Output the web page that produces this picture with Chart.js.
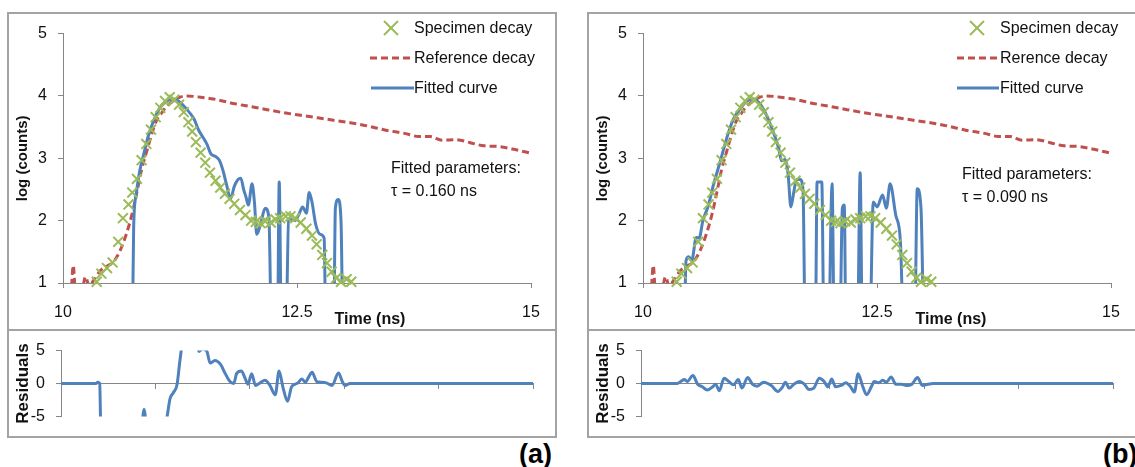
<!DOCTYPE html>
<html>
<head>
<meta charset="utf-8">
<script src="https://cdn.jsdelivr.net/npm/chart.js@4.4.1/dist/chart.umd.min.js"></script>
<style>
  body { margin: 0; background: #fff; }
  #page { position: relative; width: 1135px; height: 467px; overflow: hidden; background: #fff; }
  .frame { position: absolute; border: 2px solid #a3a3a3; box-sizing: border-box; }
  .divider { position: absolute; height: 2px; background: #a3a3a3; }
  canvas { position: absolute; }
  .txt { position: absolute; font-family: 'Liberation Sans', Arial, sans-serif; font-size: 16px; line-height: 20px; white-space: nowrap; color: #111; }
  .bold { font-weight: bold; }
  .tag { position: absolute; font-family: 'Liberation Sans', Arial, sans-serif; font-weight: bold; font-size: 27px; line-height: 27px; color: #000; }
  svg { position: absolute; overflow: visible; }
</style>
</head>
<body>
<div id="page">
  <div class="frame" style="left:7px;top:12px;width:550px;height:426px"></div>
  <div class="divider" style="left:7px;top:329px;width:550px"></div>
  <div class="frame" style="left:587px;top:12px;width:552px;height:426px"></div>
  <div class="divider" style="left:587px;top:329px;width:552px"></div>

  <canvas id="decayA" width="548" height="317" style="left:8px;top:13px"></canvas>
  <canvas id="residA" width="548" height="107" style="left:8px;top:330px"></canvas>
  <canvas id="decayB" width="548" height="317" style="left:588px;top:13px"></canvas>
  <canvas id="residB" width="548" height="107" style="left:588px;top:330px"></canvas>

  <!-- legend (a) -->
  <svg style="left:384px;top:21px" width="14" height="14"><path d="M0 0L14 14M14 0L0 14" stroke="#9BBB59" stroke-width="2"/></svg>
  <div class="txt" style="left:414px;top:18px">Specimen decay</div>
  <svg style="left:370px;top:56px" width="44" height="4"><line x1="0" y1="2" x2="44" y2="2" stroke="#C0504D" stroke-width="3" stroke-dasharray="7 4"/></svg>
  <div class="txt" style="left:414px;top:48px">Reference decay</div>
  <svg style="left:371px;top:86px" width="43" height="4"><line x1="0" y1="2" x2="43" y2="2" stroke="#4F81BD" stroke-width="3"/></svg>
  <div class="txt" style="left:414px;top:78px">Fitted curve</div>
  <div class="txt" style="left:391px;top:158px">Fitted parameters:</div>
  <div class="txt" style="left:391px;top:181px">τ = 0.160 ns</div>
  <div class="txt bold" style="left:320px;top:309px;width:100px;text-align:center">Time (ns)</div>
  <div class="tag" style="left:519px;top:441px">(a)</div>

  <!-- legend (b) -->
  <svg style="left:970px;top:21px" width="14" height="14"><path d="M0 0L14 14M14 0L0 14" stroke="#9BBB59" stroke-width="2"/></svg>
  <div class="txt" style="left:1000px;top:18px">Specimen decay</div>
  <svg style="left:957px;top:56px" width="42" height="4"><line x1="0" y1="2" x2="42" y2="2" stroke="#C0504D" stroke-width="3" stroke-dasharray="7 4"/></svg>
  <div class="txt" style="left:1000px;top:48px">Rerence decay</div>
  <svg style="left:957px;top:86px" width="42" height="4"><line x1="0" y1="2" x2="42" y2="2" stroke="#4F81BD" stroke-width="3"/></svg>
  <div class="txt" style="left:1000px;top:78px">Fitted curve</div>
  <div class="txt" style="left:962px;top:164px">Fitted parameters:</div>
  <div class="txt" style="left:962px;top:187px">τ = 0.090 ns</div>
  <div class="txt bold" style="left:901px;top:309px;width:100px;text-align:center">Time (ns)</div>
  <div class="tag" style="left:1103px;top:441px">(b)</div>
</div>

<script>
// tick values
const mainXTicks = [10, 12.5, 15];
const mainYTicks = [1, 2, 3, 4, 5];
const residualXTicks = [10, 11, 12, 13, 14, 15];
const residualYTicks = [-5, 0, 5];

// [time (ns), log(counts)] - same specimen and reference in both panels
const specimenDecay = [
  [10.36, 1.02], [10.41, 1.15], [10.47, 1.24], [10.53, 1.33], [10.59, 1.66], [10.64, 2.04],
  [10.70, 2.26], [10.74, 2.45], [10.79, 2.67], [10.84, 2.97], [10.89, 3.23], [10.94, 3.46],
  [10.99, 3.66], [11.04, 3.81], [11.09, 3.92], [11.14, 3.98], [11.19, 3.94], [11.24, 3.86],
  [11.29, 3.74], [11.34, 3.58], [11.38, 3.43], [11.42, 3.26], [11.47, 3.09], [11.52, 2.93],
  [11.57, 2.77], [11.63, 2.64], [11.68, 2.53], [11.73, 2.43], [11.78, 2.35], [11.83, 2.27],
  [11.89, 2.17], [11.95, 2.09], [12.01, 2.00], [12.06, 1.98], [12.11, 1.96], [12.16, 1.99],
  [12.22, 1.97], [12.27, 2.02], [12.32, 2.04], [12.38, 2.07], [12.43, 2.07], [12.48, 2.04],
  [12.54, 1.97], [12.60, 1.87], [12.66, 1.76], [12.71, 1.62], [12.77, 1.45], [12.82, 1.32],
  [12.87, 1.18], [12.92, 1.08], [12.97, 1.02], [13.03, 1.06], [13.08, 1.02]
];

const referenceDecay = [
  [10.08, 0.6], [10.11, 1.28], [10.135, 0.8], [10.20, 0.85], [10.24, 1.10], [10.28, 0.95],
  [10.33, 1.05], [10.40, 1.20], [10.47, 1.27], [10.54, 1.34], [10.61, 1.52], [10.68, 1.80],
  [10.74, 2.12], [10.79, 2.46], [10.84, 2.82], [10.90, 3.14], [10.95, 3.40], [11.00, 3.61],
  [11.06, 3.74], [11.11, 3.84], [11.18, 3.92], [11.25, 3.98], [11.32, 4.00], [11.47, 3.98],
  [11.61, 3.95], [11.82, 3.88], [12.00, 3.83], [12.18, 3.78], [12.36, 3.73], [12.54, 3.69],
  [12.72, 3.65], [12.89, 3.61], [13.07, 3.57], [13.25, 3.52], [13.45, 3.45], [13.65, 3.40],
  [13.80, 3.35], [13.92, 3.35], [14.05, 3.29], [14.20, 3.30], [14.35, 3.25], [14.50, 3.20],
  [14.65, 3.19], [14.80, 3.15], [15.00, 3.08]
];

const fittedCurveA = [
  [10.74, 0], [10.755, 1.9], [10.78, 2.4], [10.82, 2.8], [10.86, 3.05], [10.91, 3.35],
  [10.97, 3.61], [11.04, 3.82], [11.11, 3.92], [11.18, 3.95], [11.25, 3.90], [11.32, 3.79],
  [11.40, 3.63], [11.45, 3.45], [11.49, 3.35], [11.54, 3.22], [11.58, 3.07], [11.63, 3.03],
  [11.67, 2.97], [11.71, 2.80], [11.75, 2.56], [11.79, 2.35], [11.83, 2.55], [11.87, 2.66],
  [11.90, 2.68], [11.93, 2.50], [11.955, 2.38], [11.98, 2.25], [12.02, 2.59], [12.045, 2.30],
  [12.07, 1.78], [12.11, 1.94], [12.16, 2.20], [12.20, 2.05], [12.23, 0], [12.29, 0],
  [12.31, 2.62], [12.335, 0], [12.38, 0], [12.41, 2.0], [12.44, 2.02], [12.48, 2.0],
  [12.52, 2.1], [12.56, 2.22], [12.60, 2.12], [12.63, 2.45], [12.66, 2.3], [12.70, 1.94],
  [12.75, 1.78], [12.79, 1.72], [12.81, 0], [12.89, 0], [12.91, 2.2], [12.94, 2.34],
  [12.97, 2.0], [12.99, 0]
];

const fittedCurveB = [
  [10.44, 0], [10.46, 1.36], [10.49, 1.42], [10.52, 1.36], [10.57, 1.73], [10.60, 1.72],
  [10.64, 2.00], [10.70, 2.25], [10.75, 2.56], [10.80, 2.82], [10.86, 3.14], [10.91, 3.40],
  [10.96, 3.61], [11.04, 3.80], [11.11, 3.92], [11.18, 3.95], [11.25, 3.87], [11.32, 3.69],
  [11.39, 3.43], [11.45, 3.16], [11.48, 2.96], [11.52, 2.98], [11.55, 2.75], [11.58, 2.22],
  [11.61, 2.45], [11.64, 2.66], [11.68, 2.66], [11.71, 2.48], [11.735, 0], [11.84, 0],
  [11.86, 2.62], [11.91, 2.62], [11.935, 0], [11.98, 0], [12.02, 2.59], [12.045, 0],
  [12.10, 0], [12.13, 2.20], [12.15, 2.25], [12.17, 0], [12.29, 0], [12.32, 2.77],
  [12.345, 0], [12.42, 0], [12.46, 2.30], [12.50, 2.22], [12.56, 2.41], [12.60, 2.20],
  [12.64, 2.59], [12.70, 2.09], [12.75, 1.67], [12.79, 0], [12.90, 0], [12.93, 2.51],
  [12.97, 2.2], [13.00, 0]
];

// [time (ns), residual]
const residualsA = [
  [10.0, 0], [10.37, 0], [10.39, 0.2], [10.41, 0], [10.425, -9], [10.82, -9], [10.865, -5.2],
  [10.88, -3.9], [10.895, -5.2], [10.94, -9], [11.10, -7], [11.13, -4.5], [11.155, -2.3],
  [11.19, -1.4], [11.23, -0.1], [11.26, 3.5], [11.30, 7], [11.43, 7], [11.46, 4.85],
  [11.50, 5.3], [11.545, 4.9], [11.58, 3.1], [11.63, 3.5], [11.69, 2.9], [11.74, 1.5],
  [11.79, 0.3], [11.83, 0], [11.86, 1.5], [11.91, 1.9], [11.95, 0.8], [11.98, -0.1],
  [12.02, 1.5], [12.06, -0.3], [12.11, 0.1], [12.16, 0.5], [12.21, -0.2], [12.27, -1.7],
  [12.31, 1.9], [12.35, -0.5], [12.40, -2.7], [12.44, -0.6], [12.48, -0.1], [12.51, 0.1],
  [12.55, 0.7], [12.59, 0.2], [12.62, 0.9], [12.66, 1.7], [12.71, 0.3], [12.76, 0.2],
  [12.81, 0.1], [12.87, -0.3], [12.94, 1.6], [12.98, 0.3], [13.01, -0.3], [13.06, 0], [15.0, 0]
];

const residualsB = [
  [10.0, 0], [10.385, 0], [10.42, 0.3], [10.46, 0.6], [10.49, 0.3], [10.55, 1.2], [10.60, -0.1],
  [10.65, -0.5], [10.70, -1.0], [10.76, -0.5], [10.79, -0.1], [10.83, -1.1], [10.88, 0.8],
  [10.93, 0.3], [10.98, -0.2], [11.03, 0.6], [11.07, -0.7], [11.13, 0.9], [11.18, -0.1],
  [11.23, -0.4], [11.30, 0.2], [11.38, -0.3], [11.45, -1.2], [11.50, -0.5], [11.53, 0.2],
  [11.57, -0.7], [11.62, -0.1], [11.68, 0.3], [11.73, -0.1], [11.78, -0.9], [11.83, -0.7],
  [11.89, 0.8], [11.94, 0.3], [11.98, -0.5], [12.02, 0.7], [12.06, -0.5], [12.12, -0.3],
  [12.17, 0.1], [12.22, -0.5], [12.26, -1.3], [12.30, 1.5], [12.35, -0.5], [12.39, -1.7],
  [12.44, -0.5], [12.47, 0.3], [12.52, 0.1], [12.56, 0.5], [12.60, 0.2], [12.65, 1.0],
  [12.70, -0.1], [12.76, -0.1], [12.81, -0.3], [12.87, -0.1], [12.93, 0.9], [12.98, -0.3],
  [13.04, -0.1], [13.10, 0], [15.0, 0]
];

const GREEN = '#9BBB59';
const RED = '#C0504D';
const BLUE = '#4F81BD';
const AXIS = '#868686';

Chart.defaults.font.family = "'Liberation Sans', Arial, sans-serif";
Chart.defaults.font.size = 16;
Chart.defaults.color = '#111';

function toPoints(pairs) {
  return pairs.map(p => ({ x: p[0], y: p[1] }));
}

function fixedTicks(values) {
  return function (scale) {
    scale.ticks = values.map(v => ({ value: v }));
  };
}

function initializeDecayChart(canvasId, fitted) {
  var el = document.getElementById(canvasId);
  if (!el) {
    console.error("Not found chart canvas.");
    return null;
  }

  return new Chart(el, {
    type: 'scatter',
    data: {
      datasets: [{
        label: 'Specimen decay',
        data: toPoints(specimenDecay),
        showLine: false,
        pointStyle: 'crossRot',
        pointRadius: 7,
        pointBorderWidth: 2,
        borderColor: GREEN,
        backgroundColor: GREEN,
        clip: false,
        order: 0
      }, {
        label: 'Fitted curve',
        data: toPoints(fitted),
        showLine: true,
        pointRadius: 0,
        borderColor: BLUE,
        borderWidth: 3,
        cubicInterpolationMode: 'monotone',
        order: 1
      }, {
        label: 'Reference decay',
        data: toPoints(referenceDecay),
        showLine: true,
        pointRadius: 0,
        borderColor: RED,
        borderWidth: 3,
        borderDash: [7, 4],
        cubicInterpolationMode: 'monotone',
        order: 2
      }]
    },
    options: {
      responsive: false,
      animation: false,
      devicePixelRatio: 1,
      layout: {
        autoPadding: false,
        padding: { left: 0, right: 25, top: 15.5, bottom: 7 }
      },
      plugins: {
        legend: { display: false },
        tooltip: { enabled: false }
      },
      scales: {
        x: {
          type: 'linear',
          min: 10,
          max: 15,
          afterBuildTicks: fixedTicks(mainXTicks),
          afterFit: s => { s.height = 40; },
          grid: { drawOnChartArea: false, tickLength: 5, color: AXIS },
          border: { color: AXIS },
          ticks: { padding: 15 }
        },
        y: {
          min: 1,
          max: 5,
          afterBuildTicks: fixedTicks(mainYTicks),
          afterFit: s => { s.width = 55; },
          grid: { drawOnChartArea: false, tickLength: 5, color: AXIS },
          border: { color: AXIS },
          ticks: { padding: 11 },
          title: {
            display: true,
            text: 'log (counts)',
            font: { size: 15, weight: 'bold' },
            padding: { top: 6, bottom: 0 }
          }
        }
      }
    }
  });
}

function initializeResidualChart(canvasId, residuals) {
  var el = document.getElementById(canvasId);
  if (!el) {
    console.error("Not found chart canvas.");
    return null;
  }

  return new Chart(el, {
    type: 'scatter',
    data: {
      datasets: [{
        label: 'Residuals',
        data: toPoints(residuals),
        showLine: true,
        pointRadius: 0,
        borderColor: BLUE,
        borderWidth: 3,
        cubicInterpolationMode: 'monotone'
      }]
    },
    options: {
      responsive: false,
      animation: false,
      devicePixelRatio: 1,
      layout: {
        autoPadding: false,
        padding: { left: 0, right: 23, top: 12.5, bottom: 11.7 }
      },
      plugins: {
        legend: { display: false },
        tooltip: { enabled: false }
      },
      scales: {
        x: {
          type: 'linear',
          min: 10,
          max: 15,
          position: { y: 0 },
          afterBuildTicks: fixedTicks(residualXTicks),
          grid: { drawOnChartArea: false, tickLength: 5, color: AXIS },
          border: { color: AXIS },
          ticks: { display: false }
        },
        y: {
          min: -5,
          max: 5,
          afterBuildTicks: fixedTicks(residualYTicks),
          afterFit: s => { s.width = 53; },
          grid: { drawOnChartArea: false, tickLength: 5, color: AXIS },
          border: { color: AXIS },
          ticks: { padding: 11 },
          title: {
            display: true,
            text: 'Residuals',
            font: { size: 17, weight: 'bold' },
            padding: { top: 5, bottom: 0 }
          }
        }
      }
    }
  });
}

initializeDecayChart('decayA', fittedCurveA);
initializeResidualChart('residA', residualsA);
initializeDecayChart('decayB', fittedCurveB);
initializeResidualChart('residB', residualsB);
</script>
</body>
</html>
